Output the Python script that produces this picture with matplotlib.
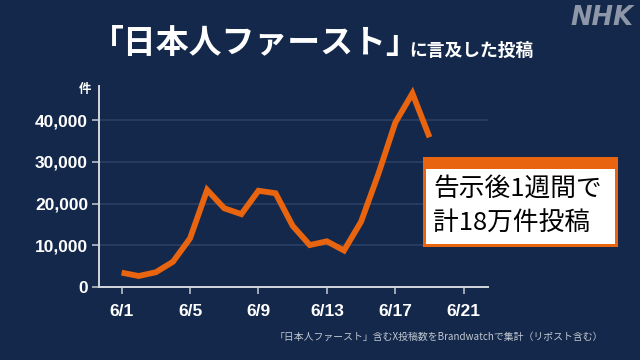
import matplotlib
matplotlib.use("Agg")
import matplotlib.pyplot as plt
from matplotlib.patches import Rectangle
from matplotlib.ticker import FuncFormatter

# daily post counts mentioning 「日本人ファースト」, June 1-19
days = list(range(1, 20))
posts = [3500, 2700, 3600, 6100, 11700, 23300, 18900, 17500, 23100, 22500,
         14700, 10100, 11000, 8800, 15700, 27000, 39400, 46400, 35900]
xtick_days = [1, 5, 9, 13, 17, 21]
xtick_labels = ["6/1", "6/5", "6/9", "6/13", "6/17", "6/21"]
ytick_vals = [0, 10000, 20000, 30000, 40000]

BG = "#13284a"
ORANGE = "#e8640f"
GRID = "#2b4064"
JP = ["Noto Sans CJK JP", "DejaVu Sans"]

fig = plt.figure(figsize=(6.4, 3.6), dpi=100, facecolor=BG)
ax = fig.add_axes([0.155, 0.202, 0.607, 0.559], facecolor=BG)

ax.plot(days, posts, color=ORANGE, linewidth=4.2, solid_joinstyle="miter",
        solid_capstyle="butt", zorder=3)

ax.set_xlim(-0.31, 22.4)
ax.set_ylim(0, 48150)
ax.set_xticks(xtick_days)
ax.set_xticklabels(xtick_labels)
ax.set_yticks(ytick_vals)
ax.yaxis.set_major_formatter(FuncFormatter(lambda v, p: f"{int(v):,}"))

for t in ax.get_xticklabels() + ax.get_yticklabels():
    t.set_fontfamily("Liberation Sans")
    t.set_fontweight("bold")
    t.set_fontsize(12.5)
    t.set_color("white")
ax.tick_params(axis="x", length=5, width=1.2, color="#b8bec8", pad=7)
ax.tick_params(axis="y", length=5, width=1.2, color="#b8bec8", pad=3)

for g in ytick_vals[1:]:
    ax.axhline(g, color=GRID, linewidth=1.2, zorder=1)

for side in ["top", "right"]:
    ax.spines[side].set_visible(False)
for side in ["left", "bottom"]:
    ax.spines[side].set_color("#d4d8de")
    ax.spines[side].set_linewidth(1.4)

fig.text(85 / 640, 1 - 89 / 360, "件", family=JP, weight="bold", fontsize=9,
         color="white", ha="center", va="center")

# title
fig.text(91 / 640, 1 - 44 / 360, "「日本人ファースト」", family=JP, weight="bold",
         fontsize=23.7, color="white", ha="left", va="center")
fig.text(409 / 640, 1 - 51 / 360, "に言及した投稿", family=JP, weight="bold",
         fontsize=12.8, color="white", ha="left", va="center")

fig.text(633 / 640, 1 - 18 / 360, "NHK", family="DejaVu Sans", weight="heavy",
         style="italic", fontsize=18.5, color="#8e97a8", ha="right", va="center")

# annotation box
fig.patches.append(Rectangle((422.7 / 640, 1 - 246.7 / 360), 195.3 / 640, 90 / 360,
                             transform=fig.transFigure, facecolor=ORANGE,
                             edgecolor="none", zorder=5))
fig.patches.append(Rectangle((426 / 640, 1 - 244 / 360), 189 / 640, 75 / 360,
                             transform=fig.transFigure, facecolor="white",
                             edgecolor="none", zorder=6))
fig.text(433 / 640, 1 - 189 / 360, "告示後1週間で", family=JP, fontsize=18.5,
         color="black", ha="left", va="center", zorder=7)
fig.text(433 / 640, 1 - 223.5 / 360, "計18万件投稿", family=JP, fontsize=18.5,
         color="black", ha="left", va="center", zorder=7)

fig.text(603 / 640, 1 - 336.5 / 360,
         "「日本人ファースト」含むX投稿数をBrandwatchで集計（リポスト含む）",
         family=JP, fontsize=7.1, color="#c3c9d2", ha="right", va="center")

fig.savefig("out.png", dpi=100, facecolor=BG)
